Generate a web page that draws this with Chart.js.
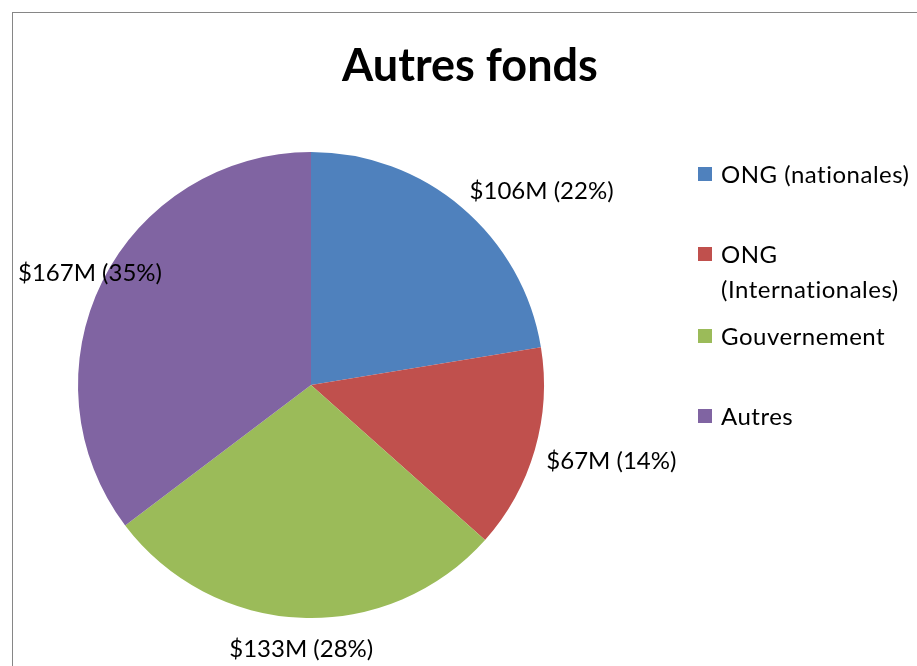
<!DOCTYPE html>
<html>
<head>
<meta charset="utf-8">
<script src="https://cdn.jsdelivr.net/npm/chart.js@4.4.0/dist/chart.umd.min.js"></script>
<style>
  html, body { margin: 0; padding: 0; background: #fff; overflow: hidden; }
  #frame { position: absolute; left: 12px; top: 12px; width: 1000px; height: 1000px; border: 1px solid #868686; }
  #chart { position: absolute; left: 0; top: 0; }
</style>
</head>
<body>
<div id="frame"></div>
<canvas id="chart" width="917" height="666"></canvas>
<script>
const chartTitle = 'Autres fonds';
const categories = ['ONG (nationales)', 'ONG (Internationales)', 'Gouvernement', 'Autres'];
const amounts = [106, 67, 133, 167]; // millions $
const sliceColors = ['#4F81BD', '#C0504D', '#9BBB59', '#8064A2'];

const total = amounts.reduce((a, b) => a + b, 0);
const FONT = 'Lato, "Liberation Sans", sans-serif';

// title, outside labels and right-hand legend, drawn Excel-style
const excelDecor = {
    id: 'excelDecor',
    afterDraw(chart) {
        const ctx = chart.ctx;
        const meta = chart.getDatasetMeta(0);
        ctx.save();

        ctx.fillStyle = '#000';
        ctx.font = 'bold 45px ' + FONT;
        ctx.textAlign = 'center';
        ctx.textBaseline = 'middle';
        ctx.fillText(chartTitle, 470, 66);

        // data labels, just outside each slice
        ctx.font = '24px ' + FONT;
        meta.data.forEach((arc, i) => {
            const text = '$' + amounts[i] + 'M (' + Math.round(amounts[i] / total * 100) + '%)';
            const mid = (arc.startAngle + arc.endAngle) / 2;
            const r = arc.outerRadius + 12;
            const c = Math.cos(mid), s = Math.sin(mid);
            const px = arc.x + c * r, py = arc.y + s * r;
            const w = ctx.measureText(text).width;
            let left = c > 0.3 ? px : (c < -0.3 ? px - w : px - w / 2);
            left = Math.max(18, Math.min(chart.width - w - 8, left));
            ctx.textAlign = 'left';
            ctx.fillText(text, left, py + 4 + 15 * s);
        });

        // legend
        ctx.font = '24px ' + FONT;
        ctx.letterSpacing = '0.5px';
        ctx.textAlign = 'left';
        const boxX = 698, textX = 721, maxW = 205, lineH = 35;
        let y = 175;
        categories.forEach((label, i) => {
            const words = label.split(' ');
            const lines = [];
            let cur = '';
            words.forEach(wd => {
                const test = cur ? cur + ' ' + wd : wd;
                if (cur && ctx.measureText(test).width > maxW) { lines.push(cur); cur = wd; }
                else cur = test;
            });
            lines.push(cur);
            ctx.fillStyle = sliceColors[i];
            ctx.fillRect(boxX, y - 8, 14, 14);
            ctx.fillStyle = '#000';
            lines.forEach((ln, k) => ctx.fillText(ln, textX, y + k * lineH));
            y += lines.length === 1 ? 80 : 82;
        });
        ctx.restore();
    }
};

new Chart(document.getElementById('chart'), {
    type: 'pie',
    data: {
        labels: categories,
        datasets: [{
            data: amounts,
            backgroundColor: sliceColors,
            borderWidth: 0
        }]
    },
    options: {
        responsive: false,
        animation: false,
        layout: {
            padding: { left: 78, top: 152, right: 373, bottom: 48 }
        },
        plugins: {
            legend: { display: false },
            title: { display: false },
            tooltip: { enabled: false }
        }
    },
    plugins: [excelDecor]
});
</script>
</body>
</html>
